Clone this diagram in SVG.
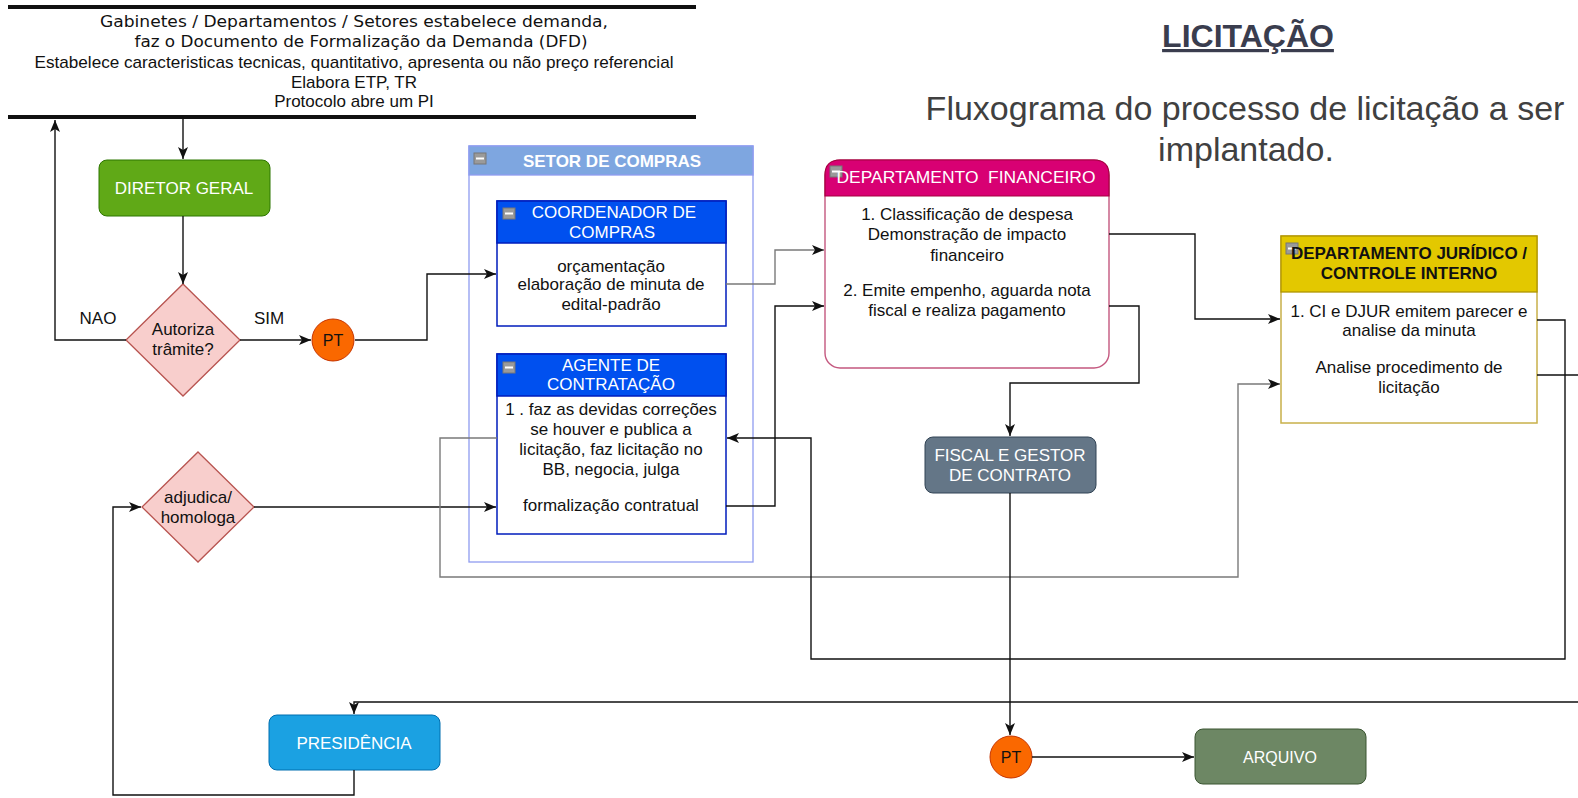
<svg xmlns="http://www.w3.org/2000/svg" width="1578" height="798" viewBox="0 0 1578 798">
<style>
text{font-family:"Liberation Sans",Arial,sans-serif;font-size:17px;text-anchor:middle}
.w{fill:#ffffff}
.k{fill:#111111}
.b{font-weight:bold}
.dv{font-family:"DejaVu Sans",Verdana,sans-serif}
.c{fill:none;stroke:#111111;stroke-width:1.4}
.g{fill:none;stroke:#7a7a7a;stroke-width:1.4}
.ico{fill:#9a9a9a;stroke:#777777;stroke-width:1}
.icl{stroke:#ffffff;stroke-width:2}
</style>
<defs>
<marker id="ar" markerUnits="userSpaceOnUse" markerWidth="14" markerHeight="12" refX="12" refY="5" orient="auto">
<path d="M0,0 L12,5 L0,10 L3,5 z" fill="#111111"/>
</marker>
</defs>
<rect width="1578" height="798" fill="#ffffff"/>

<g id="header-demanda">
<line x1="8" y1="7" x2="696" y2="7" stroke="#111111" stroke-width="4"/>
<line x1="8" y1="117" x2="696" y2="117" stroke="#111111" stroke-width="4"/>
<text class="dv k" x="354" y="27" textLength="508" lengthAdjust="spacingAndGlyphs" style="font-size:16px">Gabinetes / Departamentos / Setores estabelece demanda,</text>
<text class="dv k" x="361" y="47" textLength="453" lengthAdjust="spacingAndGlyphs" style="font-size:16px">faz o Documento de Formalização da Demanda (DFD)</text>
<text class="k" x="354" y="68" textLength="639" lengthAdjust="spacingAndGlyphs">Estabelece caracteristicas tecnicas, quantitativo, apresenta ou não preço referencial</text>
<text class="k" x="354" y="88">Elabora ETP, TR</text>
<text class="k" x="354" y="107">Protocolo abre um PI</text>
</g>

<g id="title">
<text x="1248" y="47" class="b" style="font-size:32px;fill:#3a3d4e;text-decoration:underline">LICITAÇÃO</text>
<text x="1245" y="120" style="font-size:34px;fill:#404040">Fluxograma do processo de licitação a ser</text>
<text x="1246" y="161" style="font-size:34px;fill:#404040">implantado.</text>
</g>

<g id="diretor-geral">
<rect x="99" y="160" width="171" height="56" rx="8" fill="#60a917" stroke="#2d7600"/>
<text class="w" x="184" y="194">DIRETOR GERAL</text>
</g>

<g id="autoriza">
<polygon points="183,284 240,340 183,396 126,340" fill="#f8cecc" stroke="#b85450" stroke-width="1.3"/>
<text class="k" x="183" y="335">Autoriza</text>
<text class="k" x="183" y="355">trâmite?</text>
</g>
<g id="label-nao"><text class="k" x="98" y="324">NAO</text></g>
<g id="label-sim"><text class="k" x="269" y="324">SIM</text></g>

<g id="pt1">
<circle cx="333" cy="340" r="21" fill="#fa6800" stroke="#c73500"/>
<text class="k" x="333" y="346" style="font-size:16px">PT</text>
</g>

<g id="adjudica">
<polygon points="198,452 254,507 198,562 142,507" fill="#f8cecc" stroke="#b85450" stroke-width="1.3"/>
<text class="k" x="198" y="503">adjudica/</text>
<text class="k" x="198" y="523">homologa</text>
</g>

<g id="setor-compras">
<rect x="469" y="146" width="284" height="416" fill="#ffffff" stroke="#8f9cf0" stroke-width="1.3"/>
<rect x="469" y="146" width="284" height="29" fill="#7ea6e0" stroke="#8f9cf0" stroke-width="1.3"/>
<rect class="ico" x="474" y="153" width="12" height="11"/>
<line class="icl" x1="476" y1="158.5" x2="484" y2="158.5"/>
<text class="w b" x="612" y="167">SETOR DE COMPRAS</text>
</g>

<g id="coordenador">
<rect x="497" y="201" width="229" height="125" fill="#ffffff" stroke="#001dbc" stroke-width="1.5"/>
<rect x="497" y="201" width="229" height="42" fill="#0050ef" stroke="#001dbc" stroke-width="1.5"/>
<rect class="ico" x="503" y="208" width="12" height="11"/>
<line class="icl" x1="505" y1="213.5" x2="513" y2="213.5"/>
<text class="w" x="614" y="218">COORDENADOR DE</text>
<text class="w" x="612" y="238">COMPRAS</text>
<text class="k" x="611" y="272">orçamentação</text>
<text class="k" x="611" y="290">elaboração de minuta de</text>
<text class="k" x="611" y="310">edital-padrão</text>
</g>

<g id="agente">
<rect x="497" y="354" width="229" height="180" fill="#ffffff" stroke="#001dbc" stroke-width="1.5"/>
<rect x="497" y="354" width="229" height="42" fill="#0050ef" stroke="#001dbc" stroke-width="1.5"/>
<rect class="ico" x="503" y="362" width="12" height="11"/>
<line class="icl" x1="505" y1="367.5" x2="513" y2="367.5"/>
<text class="w" x="611" y="371">AGENTE DE</text>
<text class="w" x="611" y="390">CONTRATAÇÃO</text>
<text class="k" x="611" y="415">1 . faz as devidas correções</text>
<text class="k" x="611" y="435">se houver e publica a</text>
<text class="k" x="611" y="455">licitação, faz licitação no</text>
<text class="k" x="611" y="475">BB, negocia, julga</text>
<text class="k" x="611" y="511">formalização contratual</text>
</g>

<g id="financeiro">
<rect x="825" y="160" width="284" height="208" rx="15" fill="#ffffff" stroke="#c4587f" stroke-width="1.4"/>
<path d="M825,196 V175 Q825,160 840,160 H1094 Q1109,160 1109,175 V196 Z" fill="#d80073" stroke="#a50040" stroke-width="1.2"/>
<rect class="ico" x="830" y="166" width="12" height="11"/>
<line class="icl" x1="832" y1="171.5" x2="840" y2="171.5"/>
<text class="w" x="966" y="183" xml:space="preserve" style="white-space:pre" textLength="259" lengthAdjust="spacingAndGlyphs">DEPARTAMENTO  FINANCEIRO</text>
<text class="k" x="967" y="220">1. Classificação de despesa</text>
<text class="k" x="967" y="240">Demonstração de impacto</text>
<text class="k" x="967" y="261">financeiro</text>
<text class="k" x="967" y="296">2. Emite empenho, aguarda nota</text>
<text class="k" x="967" y="316">fiscal e realiza pagamento</text>
</g>

<g id="juridico">
<rect x="1281" y="236" width="256" height="187" fill="#ffffff" stroke="#c8b04a" stroke-width="1.5"/>
<rect x="1281" y="236" width="256" height="56" fill="#e3c800" stroke="#b09500" stroke-width="1.3"/>
<rect class="ico" x="1286" y="243" width="12" height="11"/>
<line class="icl" x1="1288" y1="248.5" x2="1296" y2="248.5"/>
<text class="k b" x="1409" y="259">DEPARTAMENTO JURÍDICO /</text>
<text class="k b" x="1409" y="279">CONTROLE INTERNO</text>
<text class="k" x="1409" y="317">1. CI e DJUR emitem parecer e</text>
<text class="k" x="1409" y="336">analise da minuta</text>
<text class="k" x="1409" y="373">Analise procedimento de</text>
<text class="k" x="1409" y="393">licitação</text>
</g>

<g id="fiscal">
<rect x="925" y="437" width="171" height="56" rx="8" fill="#647687" stroke="#314354"/>
<text class="w" x="1010" y="461">FISCAL E GESTOR</text>
<text class="w" x="1010" y="481">DE CONTRATO</text>
</g>

<g id="pt2">
<circle cx="1011" cy="757" r="21" fill="#fa6800" stroke="#c73500"/>
<text class="k" x="1011" y="763" style="font-size:16px">PT</text>
</g>

<g id="arquivo">
<rect x="1195" y="729" width="171" height="55" rx="8" fill="#6d8764" stroke="#3a5431"/>
<text class="w" x="1280" y="763" style="font-size:16px">ARQUIVO</text>
</g>

<g id="presidencia">
<rect x="269" y="715" width="171" height="55" rx="8" fill="#1ba1e2" stroke="#006eaf"/>
<text class="w" x="354" y="749">PRESIDÊNCIA</text>
</g>

<g id="connectors">
<path class="c" d="M183,119 V159" marker-end="url(#ar)"/>
<path class="c" d="M183,216 V284" marker-end="url(#ar)"/>
<path class="c" d="M126,340 H55 V120" marker-end="url(#ar)"/>
<path class="c" d="M240,340 H311" marker-end="url(#ar)"/>
<path class="c" d="M355,340 H427 V274 H496" marker-end="url(#ar)"/>
<path class="g" d="M726,284 H775 V250 H824" marker-end="url(#ar)"/>
<path class="c" d="M726,506 H775 V306 H824" marker-end="url(#ar)"/>
<path class="c" d="M254,507 H496" marker-end="url(#ar)"/>
<path class="g" d="M497,438 H440 V577 H1238 V384 H1280" marker-end="url(#ar)"/>
<path class="c" d="M1109,234 H1195 V319 H1280" marker-end="url(#ar)"/>
<path class="c" d="M1109,306 H1139 V383 H1010 V436" marker-end="url(#ar)"/>
<path class="c" d="M1537,320 H1565 V659 H811 V438 H727" marker-end="url(#ar)"/>
<path class="c" d="M1537,375 H1595 V702 H354 V714" marker-end="url(#ar)"/>
<path class="c" d="M354,770 V795 H113 V507 H141" marker-end="url(#ar)"/>
<path class="c" d="M1010,493 V735" marker-end="url(#ar)"/>
<path class="c" d="M1032,757 H1194" marker-end="url(#ar)"/>
</g>
</svg>
